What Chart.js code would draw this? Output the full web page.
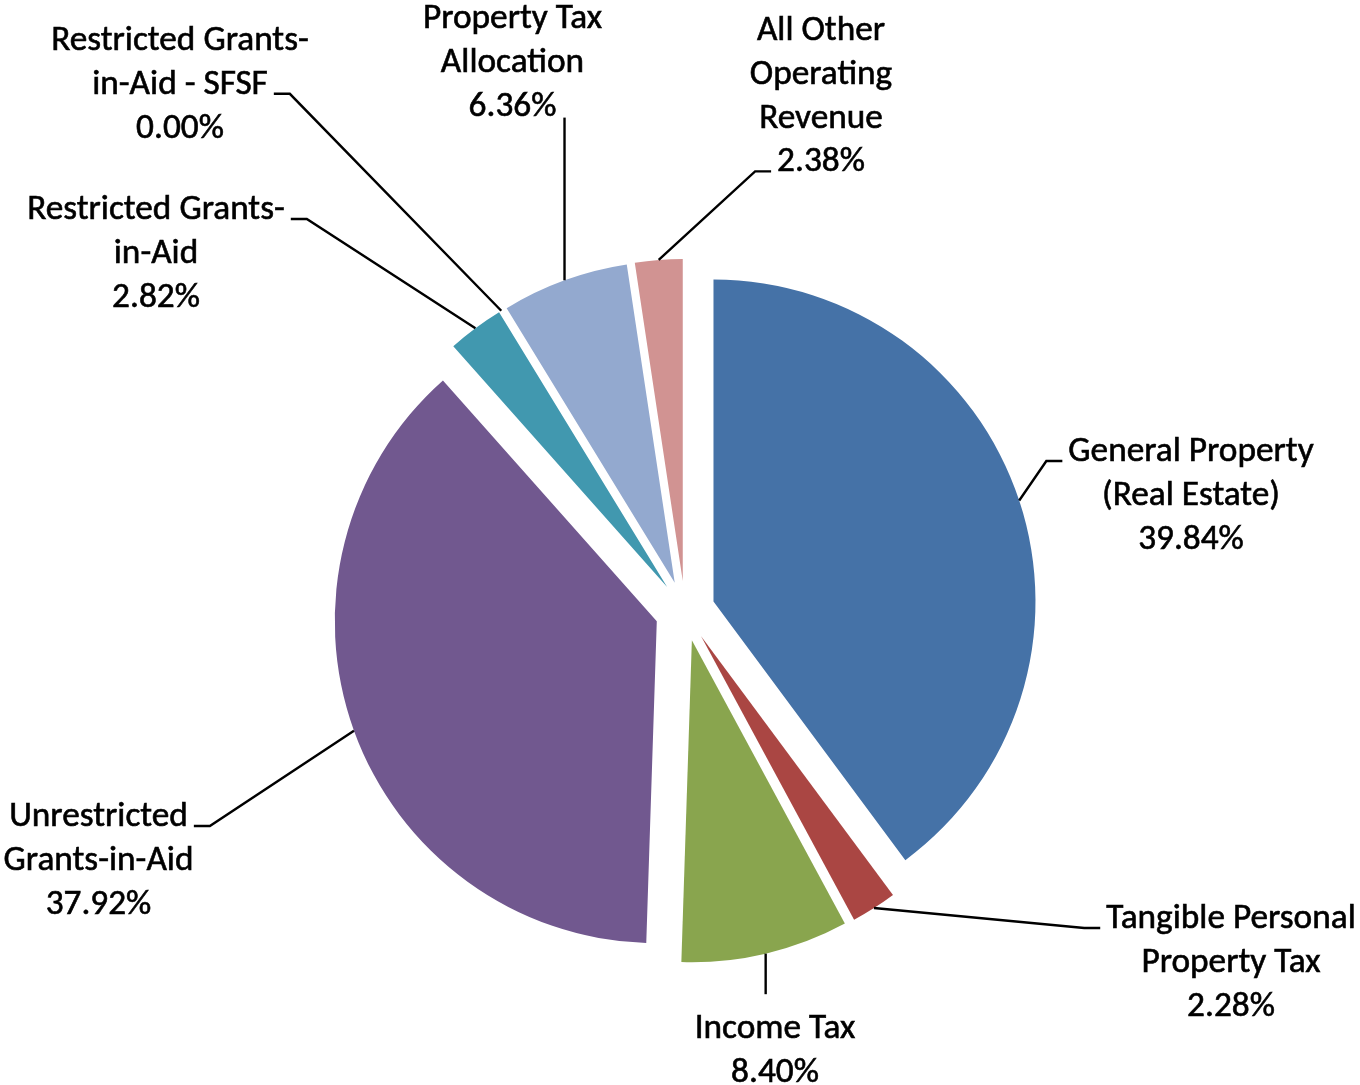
<!DOCTYPE html>
<html>
<head>
<meta charset="utf-8">
<script src="https://cdn.jsdelivr.net/npm/chart.js@4.4.0/dist/chart.umd.min.js"></script>
<style>
  html, body { margin: 0; padding: 0; background: #ffffff; }
  #wrap { width: 1360px; height: 1085px; position: relative; }
</style>
</head>
<body>
<div id="wrap"><canvas id="c"></canvas></div>
<script>
// ---- data ----
const categories = [
  "General Property (Real Estate)",
  "Tangible Personal Property Tax",
  "Income Tax",
  "Unrestricted Grants-in-Aid",
  "Restricted Grants-in-Aid",
  "Restricted Grants-in-Aid - SFSF",
  "Property Tax Allocation",
  "All Other Operating Revenue"
];
const percentages = [39.84, 2.28, 8.40, 37.92, 2.82, 0.00, 6.36, 2.38];
const labelLines = [
  ["General Property", "(Real Estate)"],
  ["Tangible Personal", "Property Tax"],
  ["Income Tax"],
  ["Unrestricted", "Grants-in-Aid"],
  ["Restricted Grants-", "in-Aid"],
  ["Restricted Grants-", "in-Aid - SFSF"],
  ["Property Tax", "Allocation"],
  ["All Other", "Operating", "Revenue"]
];

// ---- style / layout ----
const sliceColors = ["#4572A7", "#AA4643", "#89A54E", "#71588F", "#4198AF", "#DB843D", "#93A9CF", "#D19392"];
const EXPLODE = 30;        // px each slice is pulled out
const PIE_RADIUS = 322;
const LINE_H = 43.8;
const FONT_FAMILY = "Calibri, Carlito, Lato, sans-serif";
// label block: first-line baseline offset from pie centre, and where the leader attaches
const labelLayout = [
  { dx: 506,    dy: -150,   attach: "left",  line: 0 },
  { dx: 546,    dy: 317,    attach: "left",  line: 0 },
  { dx: 90,     dy: 427,    attach: "top" },
  { dx: -586.5, dy: 215,    attach: "right", line: 0 },
  { dx: -529,   dy: -392,   attach: "right", line: 0 },
  { dx: -505,   dy: -561,   attach: "right", line: 1 },
  { dx: -172.5, dy: -583,   attach: "bottom" },
  { dx: 136,    dy: -571,   attach: "left",  line: 3 }
];

// calibrate font size so "General Property" spans ~245px like the original
const mctx = document.createElement("canvas").getContext("2d");
mctx.font = "100px " + FONT_FAMILY;
const FONT_SIZE = Math.round(100 * 245 / mctx.measureText("General Property").width * 10) / 10;

const explodePlugin = {
  id: "explode",
  afterDatasetUpdate(chart, args) {
    args.meta.data.forEach(arc => {
      const mid = (arc.startAngle + arc.endAngle) / 2;
      arc.x += Math.cos(mid) * EXPLODE;
      arc.y += Math.sin(mid) * EXPLODE;
    });
  }
};

const labelPlugin = {
  id: "outsideLabels",
  afterDatasetsDraw(chart) {
    const ctx = chart.ctx;
    const meta = chart.getDatasetMeta(0);
    const ca = chart.chartArea;
    const cx = (ca.left + ca.right) / 2;
    const cy = (ca.top + ca.bottom) / 2;
    ctx.save();
    ctx.font = FONT_SIZE + "px " + FONT_FAMILY;
    ctx.fillStyle = "#000000";
    ctx.textAlign = "center";
    ctx.textBaseline = "alphabetic";
    ctx.strokeStyle = "#000000";
    meta.data.forEach((arc, i) => {
      const L = labelLayout[i];
      const lines = labelLines[i].concat([percentages[i].toFixed(2) + "%"]);
      const lx = cx + L.dx;
      const by = cy + L.dy;
      ctx.lineWidth = 0.6;
      lines.forEach((t, k) => {
        ctx.fillText(t, lx, by + k * LINE_H);
        ctx.strokeText(t, lx, by + k * LINE_H);
      });

      const mid = (arc.startAngle + arc.endAngle) / 2;
      const sx = arc.x + Math.cos(mid) * arc.outerRadius;
      const sy = arc.y + Math.sin(mid) * arc.outerRadius;
      ctx.lineWidth = 2.4;
      ctx.beginPath();
      ctx.moveTo(sx, sy);
      if (L.attach === "left" || L.attach === "right") {
        const w = ctx.measureText(lines[L.line]).width;
        const ly = by + L.line * LINE_H;
        const dir = L.attach === "left" ? -1 : 1;
        const endX = lx + dir * (w / 2 + 6);
        const elbowX = endX + dir * 16;
        ctx.lineTo(elbowX, ly);
        ctx.lineTo(endX, ly);
      } else if (L.attach === "top") {
        ctx.lineTo(sx, by - LINE_H);
      } else {
        ctx.lineTo(sx, by + (lines.length - 1) * LINE_H + 2);
      }
      ctx.stroke();
    });
    ctx.restore();
  }
};

new Chart(document.getElementById("c"), {
  type: "pie",
  data: {
    labels: categories,
    datasets: [{
      data: percentages,
      backgroundColor: sliceColors,
      borderWidth: 0,
      radius: PIE_RADIUS
    }]
  },
  options: {
    responsive: true,
    maintainAspectRatio: false,
    animation: false,
    layout: { padding: { left: 10, right: 0, top: 137, bottom: 0 } },
    plugins: {
      legend: { display: false },
      tooltip: { enabled: false }
    }
  },
  plugins: [explodePlugin, labelPlugin]
});
</script>
</body>
</html>
